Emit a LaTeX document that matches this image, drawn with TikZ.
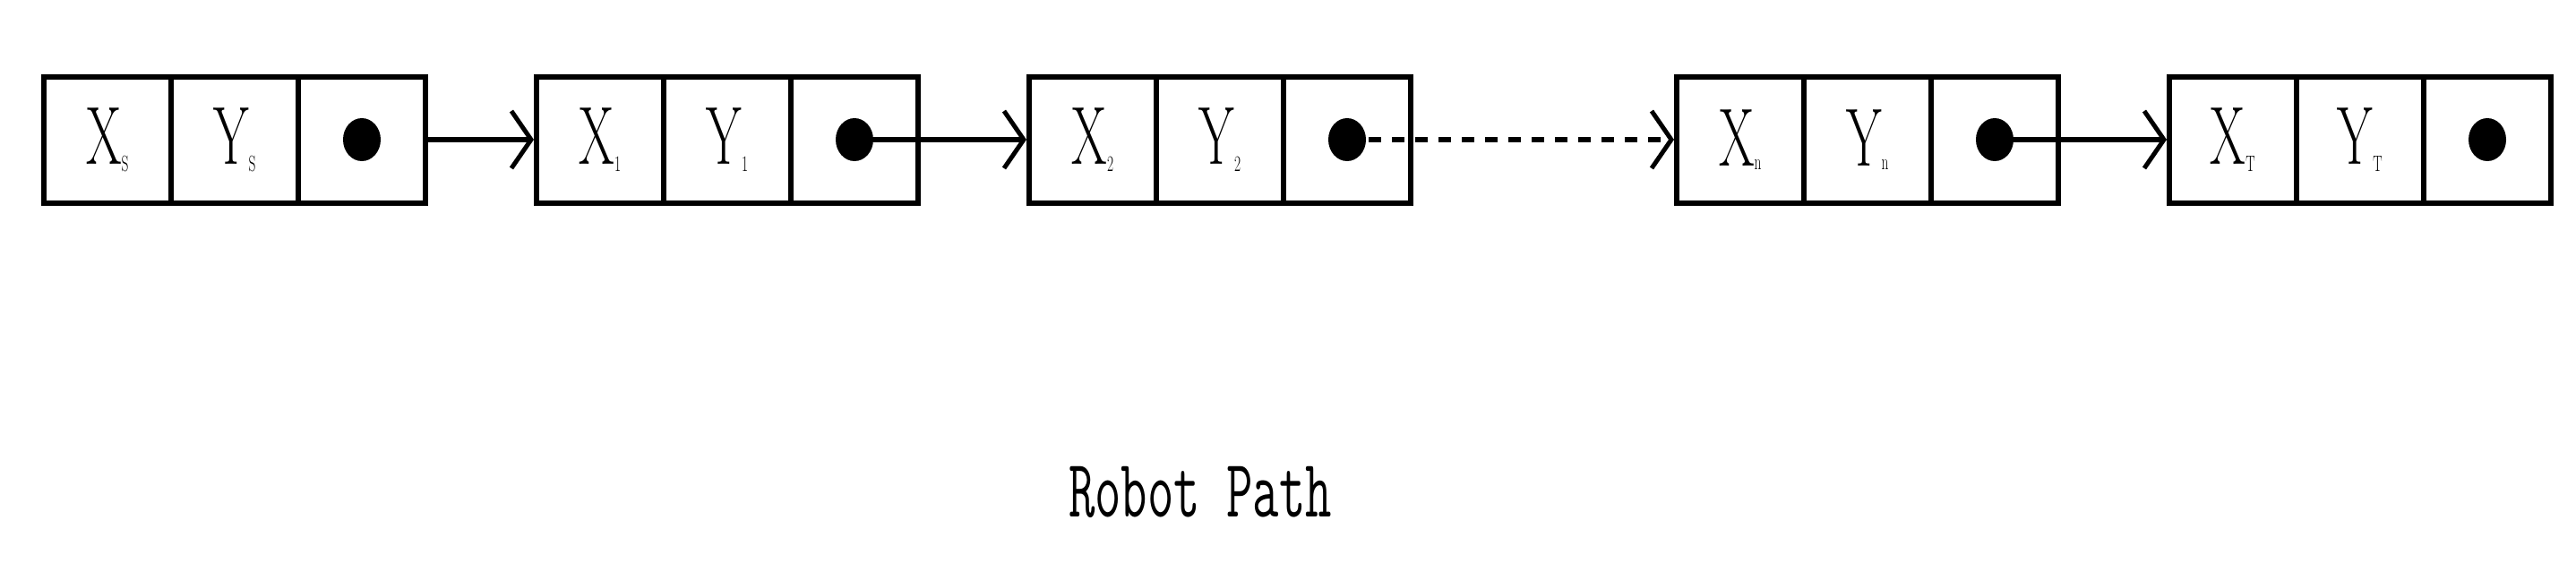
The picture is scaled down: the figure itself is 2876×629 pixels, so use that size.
\documentclass[tikz,border=0pt]{standalone}
\usetikzlibrary{arrows.meta}
\begin{document}
\begin{tikzpicture}[x=1pt,y=-1pt,
  cell/.style={draw,line width=6pt,minimum width=142pt,minimum height=141pt,inner sep=0pt,anchor=west},
  lbl/.style={font=\fontsize{92}{92}\selectfont,xscale=0.62},
  dotm/.style={fill=black,ellipse shape},
  conn/.style={line width=6pt,-{Straight Barb[length=22pt,width=64pt,line width=5pt]}}]
\useasboundingbox (0,0) rectangle (2876,629);
\newcommand{\mkrec}[4]{%
  \node[cell] (#1a) at (#2,156) {};
  \node[cell] (#1b) at (#2+142,156) {};
  \node[cell] (#1c) at (#2+284,156) {};
  \node[lbl] at (#1a.center) {X$_{\mathrm{#3}}$};
  \node[lbl] at (#1b.center) {Y$_{\mathrm{#4}}$};
  \fill (#1c.center) ellipse [x radius=21pt,y radius=24pt];
  \coordinate (#1d) at (#1c.center);
}
\mkrec{s}{46}{S}{S}
\mkrec{o}{596}{1}{1}
\mkrec{t}{1146}{2}{2}
\mkrec{n}{1869}{n}{n}
\mkrec{e}{2419}{T}{T}
\draw[conn] (sc.east) -- (oa.west);
\draw[conn] (od) -- (ta.west);
\draw[conn,dash pattern=on 14pt off 12pt] ([xshift=24pt]td) -- (na.west);
\draw[conn] (nd) -- (ea.west);
\node[lbl,font=\fontsize{92}{92}\selectfont\ttfamily,xscale=1] (title) at (1340,550) {Robot Path};
\end{tikzpicture}
\end{document}
